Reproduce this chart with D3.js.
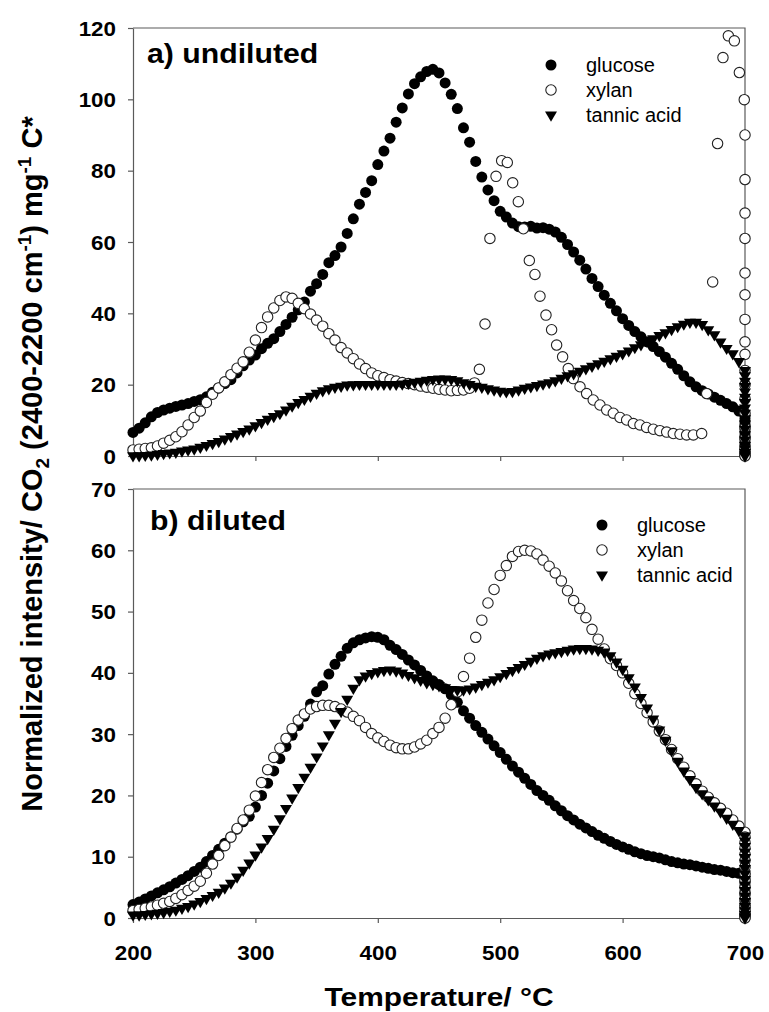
<!DOCTYPE html>
<html>
<head>
<meta charset="utf-8">
<script src="https://cdn.jsdelivr.net/npm/d3@7"></script>
<style>
  body { margin: 0; background: #fff; }
  svg { display: block; }
  text { font-family: "Liberation Sans", Arial, sans-serif; fill: #000; }
</style>
</head>
<body>
<svg id="chart" width="769" height="1012"></svg>
<script>
// Temperature grid (°C) for the ramp series, 5 °C sampling
const temps = d3.range(200, 701, 5);

// ---- a) undiluted ----
const glucoseA = [
  6.6, 7.8, 9.3, 11.0, 12.2, 12.9, 13.4, 13.9, 14.3, 14.7,
  15.3, 15.8, 16.6, 17.9, 19.1, 20.3, 21.4, 23.3, 25.3, 26.9,
  28.3, 30.1, 31.6, 32.9, 34.9, 36.9, 38.9, 41.0, 43.2, 46.2,
  48.3, 50.9, 54.2, 56.2, 58.6, 62.4, 66.5, 70.6, 73.9, 77.2,
  81.7, 85.5, 89.1, 93.6, 97.6, 101.5, 104.4, 106.3, 107.8, 108.4,
  107.4, 104.6, 101.4, 97.4, 92.0, 88.0, 82.6, 78.2, 74.6, 71.6,
  68.6, 67.0, 65.3, 64.3, 64.2, 64.4, 63.9, 64.0, 63.6, 62.8,
  61.3, 59.3, 57.2, 54.9, 52.4, 49.8, 47.5, 45.1, 42.8, 40.7,
  38.5, 36.6, 34.9, 33.4, 32.0, 30.7, 29.3, 27.7, 26.0, 24.3,
  22.5, 20.8, 19.4, 18.3, 17.4, 16.5, 15.6, 14.7, 13.8, 12.6,
  11.3
];
// xylan (undiluted) was logged at its own temperatures
const xylanTempsA = [
  200, 205, 210, 215, 220, 225, 230, 235, 240, 245,
  250, 255, 260, 265, 270, 275, 280, 285, 290, 295,
  300, 305, 310, 315, 320, 325, 330, 335, 340, 345,
  350, 355, 360, 365, 370, 375, 380, 385, 390, 395,
  400, 405, 410, 415, 420, 425, 430, 435, 440, 445,
  450, 455, 460, 465, 470, 475, 479, 483, 487.6, 491.6,
  496.6, 501.2, 505.8, 510.2, 514.8, 518.9, 523.8, 528.4, 532.5, 537.4,
  542, 546.1, 551, 555.6, 559.7, 565.2, 570.6, 576, 581.5, 587,
  592.4, 597.9, 603.3, 608.8, 614.2, 619.6, 625.1, 630.5, 636, 641.4,
  646.9, 652.3, 657.8, 664.6, 668.7, 673.6, 677.6, 682, 686.4, 691.3,
  695.4, 699.4
];
const xylanA = [
  1.7, 1.9, 2.1, 2.3, 2.8, 3.6, 4.4, 5.4, 6.8, 8.7,
  10.8, 12.6, 15.0, 17.3, 19.1, 20.8, 22.8, 24.6, 26.4, 29.1,
  32.5, 36.0, 39.0, 41.5, 43.6, 44.6, 44.2, 42.8, 41.3, 39.8,
  38.1, 36.4, 34.3, 32.5, 30.4, 28.9, 27.3, 25.8, 24.5, 23.3,
  22.5, 22.0, 21.4, 21.0, 20.6, 20.3, 20.0, 19.6, 19.3, 19.0,
  18.7, 18.5, 18.3, 18.4, 18.5, 19.0, 20.5, 24.3, 37.0, 61.0,
  78.4, 82.8, 82.3, 76.6, 71.3, 63.7, 54.8, 50.9, 44.8, 39.5,
  35.4, 31.1, 27.8, 24.5, 21.7, 19.4, 17.5, 15.7, 14.3, 12.9,
  12.0, 10.8, 10.1, 9.1, 8.7, 8.0, 7.5, 7.1, 6.7, 6.3,
  6.1, 5.9, 5.9, 6.3, 17.5, 48.8, 87.6, 111.7, 117.8, 116.4,
  107.5, 99.9
];
const tannicA = [
  0.1, 0.1, 0.2, 0.3, 0.5, 0.7, 0.9, 1.1, 1.4, 1.7,
  2.0, 2.5, 3.0, 3.5, 4.1, 4.8, 5.5, 6.2, 6.9, 7.6,
  8.5, 9.4, 10.3, 11.1, 11.9, 12.9, 14.0, 15.0, 15.9, 16.8,
  17.6, 18.3, 18.9, 19.3, 19.6, 19.9, 20.0, 20.1, 20.1, 20.1,
  20.1, 20.1, 20.1, 20.1, 20.2, 20.4, 20.7, 21.0, 21.3, 21.5,
  21.6, 21.6, 21.5, 21.1, 20.6, 20.1, 19.6, 19.3, 18.9, 18.5,
  18.2, 18.0, 18.1, 18.5, 19.0, 19.4, 19.8, 20.2, 20.6, 21.1,
  21.8, 22.5, 23.1, 23.8, 24.5, 25.2, 25.9, 26.6, 27.3, 28.0,
  28.7, 29.5, 30.4, 31.2, 32.1, 32.9, 33.8, 34.6, 35.5, 36.3,
  37.0, 37.5, 37.5, 36.9, 35.4, 34.0, 32.0, 30.2, 28.7, 26.5,
  24.0
];
// isothermal hold at 700 °C
const glucoseHoldA = [10.5, 9.7, 8.9, 8.1, 7.3, 6.5, 5.7, 4.9, 4.1, 3.3, 2.5, 1.8, 1.1, 0.6, 0.2, 0];
const xylanHoldA = [90.0, 77.5, 68.1, 61.0, 51.3, 45.2, 38.3, 32.0, 28.5, 24.0, 20.0, 16.0, 12.0, 8.0, 5.0, 2.0, 0];
const tannicHoldA = [22.5, 21.0, 19.5, 18.0, 16.5, 15.0, 13.5, 12.0, 10.5, 9.0, 7.5, 6.0, 4.5, 3.0, 2.0, 1.0, 0.4, 0];

// ---- b) diluted ----
const glucoseB = [
  2.2, 2.6, 3.1, 3.6, 4.1, 4.6, 5.1, 5.7, 6.3, 6.9,
  7.6, 8.3, 9.2, 10.2, 11.2, 12.2, 13.2, 14.5, 15.7, 16.6,
  18.1, 20.0, 22.0, 24.0, 26.0, 28.0, 29.8, 31.4, 32.9, 34.9,
  36.9, 37.9, 39.8, 41.4, 42.7, 44.0, 44.9, 45.4, 45.7, 45.9,
  45.8, 45.4, 44.5, 43.8, 43.0, 42.1, 41.3, 40.4, 39.5, 38.7,
  38.1, 37.4, 36.4, 35.2, 33.8, 32.6, 31.4, 30.3, 29.2, 28.1,
  27.0, 25.9, 24.8, 23.8, 22.8, 21.8, 20.8, 20.0, 19.2, 18.3,
  17.5, 16.7, 16.0, 15.3, 14.7, 14.1, 13.5, 13.0, 12.5, 12.0,
  11.6, 11.2, 10.8, 10.5, 10.2, 10.0, 9.8, 9.5, 9.2, 9.0,
  8.8, 8.7, 8.5, 8.3, 8.1, 7.9, 7.8, 7.6, 7.4, 7.3,
  7.2
];
const xylanB = [
  1.2, 1.4, 1.6, 1.8, 2.1, 2.4, 2.7, 3.2, 3.8, 4.5,
  5.2, 6.0, 7.3, 8.8, 10.2, 11.8, 13.2, 14.6, 16.0, 17.6,
  19.9, 22.1, 24.2, 26.2, 27.7, 29.3, 30.9, 32.3, 33.3, 34.1,
  34.5, 34.7, 34.7, 34.5, 34.1, 33.6, 32.9, 32.2, 31.1, 30.1,
  29.4, 28.8, 28.2, 27.8, 27.6, 27.6, 27.9, 28.4, 29.0, 30.1,
  31.1, 32.6, 34.8, 36.9, 39.4, 42.4, 45.8, 48.6, 51.4, 53.6,
  55.9, 57.5, 59.0, 59.8, 60.0, 59.9, 59.4, 58.4, 57.4, 56.3,
  55.0, 53.4, 51.8, 50.5, 49.0, 47.1, 45.5, 43.9, 42.3, 41.2,
  40.0, 38.3, 36.6, 35.0, 33.5, 32.0, 30.5, 29.1, 27.5, 26.0,
  24.6, 23.2, 21.9, 20.7, 19.7, 18.8, 17.9, 17.1, 16.0, 15.0,
  14.0
];
const tannicB = [
  0.5, 0.5, 0.6, 0.7, 0.8, 0.9, 1.1, 1.3, 1.6, 1.9,
  2.3, 2.7, 3.2, 3.7, 4.2, 4.9, 5.7, 6.7, 7.8, 9.0,
  10.3, 11.6, 13.0, 14.5, 16.2, 17.9, 19.6, 21.3, 23.0, 24.6,
  26.3, 28.1, 29.9, 31.8, 33.7, 35.7, 37.5, 38.9, 39.5, 39.9,
  40.2, 40.4, 40.5, 40.3, 40.0, 39.6, 39.2, 38.8, 38.4, 38.1,
  37.9, 37.6, 37.3, 37.2, 37.2, 37.4, 37.7, 38.1, 38.5, 38.9,
  39.4, 39.9, 40.4, 40.9, 41.4, 41.9, 42.4, 42.8, 43.1, 43.3,
  43.5, 43.7, 43.9, 44.0, 44.0, 43.9, 43.7, 43.4, 42.8, 41.8,
  40.6, 39.2, 37.7, 36.0, 34.3, 32.5, 30.7, 29.0, 27.3, 25.6,
  24.0, 22.6, 21.3, 20.3, 19.3, 18.3, 17.3, 16.3, 15.3, 14.3,
  13.4
];
const glucoseHoldB = [6.7, 6.2, 5.6, 5.0, 4.4, 3.8, 3.2, 2.6, 2.0, 1.5, 1.0, 0.6, 0.3, 0];
const xylanHoldB = [13.2, 12.3, 11.4, 10.4, 9.4, 8.3, 7.2, 6.1, 5.0, 4.0, 3.0, 2.0, 1.2, 0.5, 0];
const tannicHoldB = [12.6, 11.7, 10.8, 9.9, 9.0, 8.1, 7.2, 6.3, 5.4, 4.5, 3.6, 2.7, 1.9, 1.2, 0.6, 0.2, 0];

const seriesNames = ["glucose", "xylan", "tannic acid"];
const xTicks = [200, 300, 400, 500, 600, 700];
const yTicksA = [0, 20, 40, 60, 80, 100, 120];
const yTicksB = [0, 10, 20, 30, 40, 50, 60, 70];
const holdTemp = 700;

// ---- layout ----
const FONT = '"Liberation Sans", Arial, sans-serif';
const axisColor = "#5a5a5a";
const svg = d3.select("#chart");
const x = d3.scaleLinear().domain([200, 700]).range([133, 745]);

const panels = [
  {
    label: "a) undiluted", labelX: 147, labelY: 63,
    top: 28, bottom: 456, yMax: 120, yTicks: yTicksA, showXLabels: false,
    series: [
      { t: temps, v: glucoseA, hold: glucoseHoldA },
      { t: xylanTempsA, v: xylanA, hold: xylanHoldA },
      { t: temps, v: tannicA, hold: tannicHoldA }
    ],
    legend: { symX: 551, textX: 586, symY: [65, 90, 115], textY: [72, 97, 122] }
  },
  {
    label: "b) diluted", labelX: 150, labelY: 530,
    top: 489, bottom: 918, yMax: 70, yTicks: yTicksB, showXLabels: true,
    series: [
      { t: temps, v: glucoseB, hold: glucoseHoldB },
      { t: temps, v: xylanB, hold: xylanHoldB },
      { t: temps, v: tannicB, hold: tannicHoldB }
    ],
    legend: { symX: 602, textX: 637, symY: [525, 550, 575], textY: [532, 557, 582] }
  }
];

// marker drawing: filled circle, open circle, down-pointing triangle
const triPath = "M-6,-3.4L6,-3.4L0,6.8Z";
function drawMarker(sel, kind) {
  if (kind === 0) {
    return sel.append("circle").attr("r", 5.5).attr("fill", "#000");
  } else if (kind === 1) {
    return sel.append("circle").attr("r", 5.2).attr("fill", "#fff")
      .attr("stroke", "#222").attr("stroke-width", 1.1);
  }
  return sel.append("path").attr("d", triPath).attr("fill", "#000");
}

const SX = 1.12; // horizontal width of the bold labels

panels.forEach(p => {
  const y = d3.scaleLinear().domain([0, p.yMax]).range([p.bottom, p.top]);
  const g = svg.append("g");

  // frame (top + right)
  g.append("path")
    .attr("d", `M${x(200)},${p.top}H${x(700)}V${p.bottom}`)
    .attr("fill", "none").attr("stroke", axisColor).attr("stroke-width", 1.2);

  // left axis
  const yAxis = g.append("g").attr("transform", `translate(${x(200)},0)`)
    .call(d3.axisLeft(y).tickValues(p.yTicks).tickSize(5).tickSizeOuter(0).tickPadding(10));
  yAxis.select(".domain").attr("stroke", axisColor).attr("stroke-width", 1.2);
  yAxis.selectAll(".tick line").attr("stroke", axisColor).attr("stroke-width", 1.2);
  yAxis.selectAll(".tick text")
    .attr("font-family", FONT).attr("font-size", 20).attr("font-weight", "bold").attr("fill", "#000")
    .attr("x", -17 / SX).attr("dy", "0.35em")
    .attr("transform", `scale(${SX},1)`);

  // bottom axis
  const xAxis = g.append("g").attr("transform", `translate(0,${p.bottom})`)
    .call(d3.axisBottom(x).tickValues(xTicks).tickSize(5).tickSizeOuter(0));
  xAxis.select(".domain").attr("stroke", axisColor).attr("stroke-width", 1.2);
  xAxis.selectAll(".tick line").attr("stroke", axisColor).attr("stroke-width", 1.2);
  if (p.showXLabels) {
    xAxis.selectAll(".tick text")
      .attr("font-family", FONT).attr("font-size", 20).attr("font-weight", "bold").attr("fill", "#000")
      .attr("y", 42).attr("dy", 0)
      .attr("transform", `scale(${SX},1)`);
  } else {
    xAxis.selectAll(".tick text").remove();
  }

  // data markers: glucose, xylan, tannic acid
  p.series.forEach((s, k) => {
    const pts = s.t.map((t, i) => ({ t, v: s.v[i] }))
      .concat(s.hold.map(v => ({ t: holdTemp, v })));
    const sg = g.append("g");
    pts.forEach(d => {
      const m = sg.append("g").attr("transform", `translate(${x(d.t)},${y(d.v)})`);
      drawMarker(m, k);
    });
  });

  // panel label
  g.append("text")
    .attr("transform", `translate(${p.labelX},${p.labelY}) scale(${SX},1)`)
    .attr("font-size", 27).attr("font-weight", "bold")
    .text(p.label);

  // legend
  seriesNames.forEach((name, k) => {
    const m = g.append("g").attr("transform", `translate(${p.legend.symX},${p.legend.symY[k]})`);
    drawMarker(m, k);
    g.append("text")
      .attr("x", p.legend.textX).attr("y", p.legend.textY[k])
      .attr("font-size", 20)
      .text(name);
  });
});

// x axis title
svg.append("text")
  .attr("transform", `translate(439,1006) scale(1.15,1)`)
  .attr("text-anchor", "middle")
  .attr("font-size", 26).attr("font-weight", "bold")
  .text("Temperature/ °C");

// y axis title (shared by both panels)
const yt = svg.append("text")
  .attr("transform", "translate(42,464) rotate(-90)")
  .attr("text-anchor", "middle")
  .attr("font-size", 29).attr("font-weight", "bold");
yt.append("tspan").text("Normalized intensity/ CO");
yt.append("tspan").attr("font-size", 19).attr("dy", 7).text("2");
yt.append("tspan").attr("dy", -7).text(" (2400-2200 cm");
yt.append("tspan").attr("font-size", 19).attr("dy", -11).text("-1");
yt.append("tspan").attr("dy", 11).text(") mg");
yt.append("tspan").attr("font-size", 19).attr("dy", -11).text("-1");
yt.append("tspan").attr("dy", 11).text(" C*");
</script>
</body>
</html>
